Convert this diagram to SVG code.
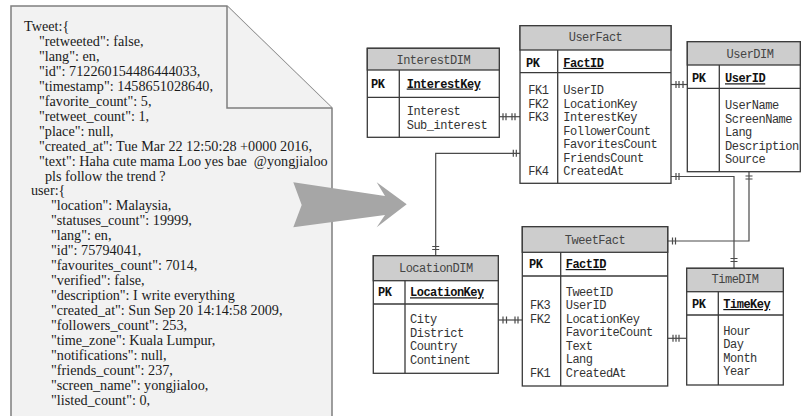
<svg xmlns="http://www.w3.org/2000/svg" width="802" height="416" viewBox="0 0 802 416">
  <style>
    .page { fill: #f2f2f2; stroke: #7f7f7f; stroke-width: 1.5; }
    .json { font-family: "Liberation Serif", "Times New Roman", serif; font-size: 14.2px; fill: #1a1a1a; }
    .box { fill: #ffffff; stroke: #3a3a3a; stroke-width: 1.3; }
    .head { fill: #cdcdcd; stroke: #3a3a3a; stroke-width: 1.3; }
    .sep { stroke: #3a3a3a; stroke-width: 1.3; fill: none; }
    .t { font-family: "Liberation Mono", "DejaVu Sans Mono", monospace; font-size: 12px; letter-spacing: -0.5px; fill: #333333; }
    .title { text-anchor: middle; fill: #444444; }
    .pk { font-weight: bold; fill: #111111; }
    .key { font-weight: bold; fill: #111111; text-decoration: underline; }
    .conn { stroke: #4a4a4a; stroke-width: 1.2; fill: none; }
    .arrow { fill: #a6a6a6; }
  </style>

  <!-- JSON document with dog-eared corner -->
  <g id="tweet-document">
    <path class="page" d="M11,6 H227 L332,108 V420 H11 Z"/>
    <path class="page" d="M227,6 V108 H332"/>
    <g class="json">
      <text x="24" y="31">Tweet:{</text>
      <text x="39" y="45.95">"retweeted": false,</text>
      <text x="39" y="60.9">"lang": en,</text>
      <text x="39" y="75.85">"id": 712260154486444033,</text>
      <text x="39" y="90.8">"timestamp": 1458651028640,</text>
      <text x="39" y="105.75">"favorite_count": 5,</text>
      <text x="39" y="120.7">"retweet_count": 1,</text>
      <text x="39" y="135.65">"place": null,</text>
      <text x="39" y="150.6">"created_at": Tue Mar 22 12:50:28 +0000 2016,</text>
      <text x="39" y="165.55">"text": Haha cute mama Loo yes bae &#160;@yongjialoo</text>
      <text x="45" y="180.5">pls follow the trend ?</text>
      <text x="31" y="195.45">user:{</text>
      <text x="51" y="210.4">"location": Malaysia,</text>
      <text x="51" y="225.35">"statuses_count": 19999,</text>
      <text x="51" y="240.3">"lang": en,</text>
      <text x="51" y="255.25">"id": 75794041,</text>
      <text x="51" y="270.2">"favourites_count": 7014,</text>
      <text x="51" y="285.15">"verified": false,</text>
      <text x="51" y="300.1">"description": I write everything</text>
      <text x="51" y="315.05">"created_at": Sun Sep 20 14:14:58 2009,</text>
      <text x="51" y="330">"followers_count": 253,</text>
      <text x="51" y="344.95">"time_zone": Kuala Lumpur,</text>
      <text x="51" y="359.9">"notifications": null,</text>
      <text x="51" y="374.85">"friends_count": 237,</text>
      <text x="51" y="389.8">"screen_name": yongjialoo,</text>
      <text x="51" y="404.75">"listed_count": 0,</text>
    </g>
  </g>

  <!-- transformation arrow -->
  <g id="transform-arrow">
    <polygon class="arrow" points="293.3,182.3 385,196 376.7,182.3 406.7,204.3 376.7,227.3 385,215 293.3,227.3 301.7,205"/>
  </g>

  <!-- relationship lines with one-and-only-one ticks -->
  <g id="connectors" class="conn">
    <!-- InterestDIM - UserFact -->
    <path d="M499.3,116.7 H520"/>
    <path d="M503,113.2 v7 M506,113.2 v7 M512,113.2 v7 M515,113.2 v7"/>
    <!-- UserFact - UserDIM -->
    <path d="M671,84.5 H687.3"/>
    <path d="M676,81 v7 M679,81 v7 M683,81 v7"/>
    <!-- UserFact - TimeDIM -->
    <path d="M671,176.5 H734 V268.3"/>
    <path d="M676,173 v7 M679,173 v7 M730.5,258.5 h7 M730.5,261.5 h7"/>
    <!-- TweetFact - UserDIM -->
    <path d="M667.7,241 H749 V171.7"/>
    <path d="M672.5,237.5 v7 M675.5,237.5 v7 M745.5,176 h7 M745.5,179 h7"/>
    <!-- TweetFact - TimeDIM -->
    <path d="M667.7,338.3 H686.7"/>
    <path d="M673,334.8 v7 M676,334.8 v7 M679,334.8 v7"/>
    <!-- LocationDIM - TweetFact -->
    <path d="M498.3,320 H522.3"/>
    <path d="M503,316.5 v7 M506.5,316.5 v7 M515,316.5 v7 M518,316.5 v7"/>
    <!-- UserFact - LocationDIM -->
    <path d="M520,153.3 H435.7 V255.7"/>
    <path d="M513.3,149.8 v7 M516.3,149.8 v7 M432.2,246.5 h7 M432.2,249.5 h7"/>
  </g>

  <!-- InterestDIM -->
  <g id="InterestDIM">
    <rect class="box" x="367.3" y="48.3" width="132" height="89"/>
    <rect class="head" x="367.3" y="48.3" width="132" height="21.7"/>
    <path class="sep" d="M367.3,97.3 H499.3 M399.3,70 V137.3"/>
    <text class="t title" x="433.3" y="63.5">InterestDIM</text>
    <text class="t pk" x="371" y="87.5">PK</text>
    <text class="t key" x="406.7" y="87.5">InterestKey</text>
    <text class="t" x="406.7" y="114.5">Interest</text>
    <text class="t" x="406.7" y="129">Sub_interest</text>
  </g>

  <!-- UserFact -->
  <g id="UserFact">
    <rect class="box" x="520" y="25.7" width="151" height="157.6"/>
    <rect class="head" x="520" y="25.7" width="151" height="24.3"/>
    <path class="sep" d="M520,72.7 H671 M557.7,50 V183.3"/>
    <text class="t title" x="595.5" y="40.8">UserFact</text>
    <text class="t pk" x="526" y="66.8">PK</text>
    <text class="t key" x="563.3" y="66.8">FactID</text>
    <text class="t" x="528.3" y="94">FK1</text>
    <text class="t" x="528.3" y="107.5">FK2</text>
    <text class="t" x="528.3" y="121">FK3</text>
    <text class="t" x="528.3" y="175">FK4</text>
    <text class="t" x="563.3" y="94">UserID</text>
    <text class="t" x="563.3" y="107.5">LocationKey</text>
    <text class="t" x="563.3" y="121">InterestKey</text>
    <text class="t" x="563.3" y="134.5">FollowerCount</text>
    <text class="t" x="563.3" y="148">FavoritesCount</text>
    <text class="t" x="563.3" y="161.5">FriendsCount</text>
    <text class="t" x="563.3" y="175">CreatedAt</text>
  </g>

  <!-- UserDIM -->
  <g id="UserDIM">
    <rect class="box" x="687.3" y="41.7" width="113" height="130"/>
    <rect class="head" x="687.3" y="41.7" width="113" height="23.3"/>
    <path class="sep" d="M687.3,88.3 H800.3 M719.3,65 V171.7"/>
    <text class="t title" x="750" y="57.5">UserDIM</text>
    <text class="t pk" x="692" y="82.3">PK</text>
    <text class="t key" x="725" y="82.3">UserID</text>
    <text class="t" x="725" y="109">UserName</text>
    <text class="t" x="725" y="122.5">ScreenName</text>
    <text class="t" x="725" y="136">Lang</text>
    <text class="t" x="725" y="149.5">Description</text>
    <text class="t" x="725" y="163">Source</text>
  </g>

  <!-- LocationDIM -->
  <g id="LocationDIM">
    <rect class="box" x="373.3" y="255.7" width="125" height="117.6"/>
    <rect class="head" x="373.3" y="255.7" width="125" height="25"/>
    <path class="sep" d="M373.3,304 H498.3 M405,280.7 V373.3"/>
    <text class="t title" x="435.8" y="271.5">LocationDIM</text>
    <text class="t pk" x="378" y="296.3">PK</text>
    <text class="t key" x="410" y="296.3">LocationKey</text>
    <text class="t" x="410" y="323">City</text>
    <text class="t" x="410" y="336.5">District</text>
    <text class="t" x="410" y="350">Country</text>
    <text class="t" x="410" y="363.5">Continent</text>
  </g>

  <!-- TweetFact -->
  <g id="TweetFact">
    <rect class="box" x="522.3" y="226.7" width="145.4" height="159.3"/>
    <rect class="head" x="522.3" y="226.7" width="145.4" height="25.6"/>
    <path class="sep" d="M522.3,276 H667.7 M560.7,252.3 V386"/>
    <text class="t title" x="595" y="243.5">TweetFact</text>
    <text class="t pk" x="529" y="268">PK</text>
    <text class="t key" x="565.7" y="268">FactID</text>
    <text class="t" x="530" y="309">FK3</text>
    <text class="t" x="530" y="322.5">FK2</text>
    <text class="t" x="530" y="377">FK1</text>
    <text class="t" x="565.7" y="295.5">TweetID</text>
    <text class="t" x="565.7" y="309">UserID</text>
    <text class="t" x="565.7" y="322.5">LocationKey</text>
    <text class="t" x="565.7" y="336">FavoriteCount</text>
    <text class="t" x="565.7" y="349.5">Text</text>
    <text class="t" x="565.7" y="363">Lang</text>
    <text class="t" x="565.7" y="377">CreatedAt</text>
  </g>

  <!-- TimeDIM -->
  <g id="TimeDIM">
    <rect class="box" x="686.7" y="268.3" width="96.6" height="116.7"/>
    <rect class="head" x="686.7" y="268.3" width="96.6" height="23.4"/>
    <path class="sep" d="M686.7,315 H783.3 M718.3,291.7 V385"/>
    <text class="t title" x="735" y="283">TimeDIM</text>
    <text class="t pk" x="692" y="308">PK</text>
    <text class="t key" x="723.3" y="308">TimeKey</text>
    <text class="t" x="723.3" y="334.5">Hour</text>
    <text class="t" x="723.3" y="348">Day</text>
    <text class="t" x="723.3" y="361.5">Month</text>
    <text class="t" x="723.3" y="375">Year</text>
  </g>
</svg>
